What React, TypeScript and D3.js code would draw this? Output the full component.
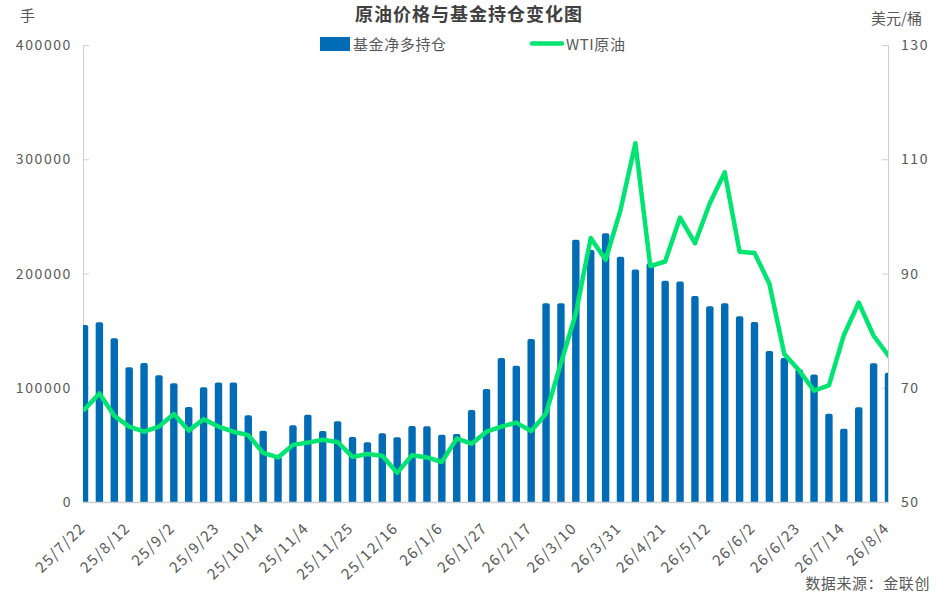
import React, { useEffect, useRef } from "react";
import * as d3 from "d3";

const dates = [
  "25/7/22", "25/7/29", "25/8/5", "25/8/12", "25/8/19", "25/8/26", "25/9/2", "25/9/9",
  "25/9/16", "25/9/23", "25/9/30", "25/10/7", "25/10/14", "25/10/21", "25/10/28", "25/11/4",
  "25/11/11", "25/11/18", "25/11/25", "25/12/2", "25/12/9", "25/12/16", "25/12/23", "25/12/30",
  "26/1/6", "26/1/13", "26/1/20", "26/1/27", "26/2/3", "26/2/10", "26/2/17", "26/2/24",
  "26/3/3", "26/3/10", "26/3/17", "26/3/24", "26/3/31", "26/4/7", "26/4/14", "26/4/21",
  "26/4/28", "26/5/5", "26/5/12", "26/5/19", "26/5/26", "26/6/2", "26/6/9", "26/6/16",
  "26/6/23", "26/6/30", "26/7/7", "26/7/14", "26/7/21", "26/7/28", "26/8/4",
];

// 基金净多持仓 (手)
const netLong = [
  155000, 157300, 143300, 117900, 121700, 110900, 103900, 83200, 100400, 104700,
  104700, 75900, 62400, 39700, 67100, 76400, 62100, 70600, 56900, 52200,
  60100, 56600, 66500, 66200, 58900, 59500, 80500, 98900, 126000, 119300,
  142700, 173900, 173900, 229600, 220600, 235200, 214700, 203600, 209000, 193700,
  193100, 180300, 171300, 173900, 162500, 157600, 132200, 126000, 116200, 111700,
  77300, 64200, 82900, 121400, 113200,
];

// WTI原油 (美元/桶)
const wti = [
  66.2, 69.0, 65.1, 63.2, 62.3, 63.2, 65.4, 62.5, 64.5, 63.2,
  62.3, 61.7, 58.6, 57.8, 60.0, 60.4, 60.9, 60.5, 57.9, 58.4,
  58.1, 55.1, 58.2, 57.8, 57.0, 61.1, 60.2, 62.3, 63.2, 63.9,
  62.4, 65.5, 74.3, 83.0, 96.2, 92.4, 101.1, 112.8, 91.3, 92.1,
  99.8, 95.3, 102.3, 107.7, 93.8, 93.6, 88.2, 75.9, 73.0, 69.5,
  70.4, 79.2, 84.9, 79.1, 75.6,
];

const leftTicks = [0, 100000, 200000, 300000, 400000];
const rightTicks = [50, 70, 90, 110, 130];
const tickLabels = dates.filter((_, i) => i % 3 === 0);

const FONT = "'Noto Sans CJK SC', 'Noto Sans', sans-serif";
const TEXT = "#595959";
const BAR = "#006CB6";
const LINE = "#00E472";

export default function App() {
  const ref = useRef<SVGSVGElement>(null);

  useEffect(() => {
    const W = 937;
    const H = 601;
    const margin = { top: 45, right: 49, bottom: 99, left: 83 };
    const width = W - margin.left - margin.right;
    const height = H - margin.top - margin.bottom;

    const svg = d3.select(ref.current).attr("width", W).attr("height", H);
    svg.selectAll("*").remove();
    svg.style("font-family", FONT);

    const x = d3.scalePoint<string>().domain(dates).range([1.5, width + 0.5]);
    const yL = d3.scaleLinear().domain([0, 400000]).range([height, 0]);
    const yR = d3.scaleLinear().domain([50, 130]).range([height, 0]);

    svg
      .append("defs")
      .append("clipPath")
      .attr("id", "plot-clip")
      .append("rect")
      .attr("x", 0)
      .attr("y", -10)
      .attr("width", width)
      .attr("height", height + 10);

    const g = svg
      .append("g")
      .attr("transform", `translate(${margin.left},${margin.top})`);

    // title & units
    svg
      .append("text")
      .attr("x", 469)
      .attr("y", 21)
      .attr("text-anchor", "middle")
      .attr("font-size", 18)
      .attr("font-weight", "bold")
      .attr("letter-spacing", 1)
      .attr("fill", "#404040")
      .text("原油价格与基金持仓变化图");
    svg
      .append("text")
      .attr("x", 20)
      .attr("y", 21)
      .attr("font-size", 15)
      .attr("fill", TEXT)
      .text("手");
    svg
      .append("text")
      .attr("x", 922)
      .attr("y", 24)
      .attr("text-anchor", "end")
      .attr("font-size", 15)
      .attr("fill", TEXT)
      .text("美元/桶");

    // legend
    svg
      .append("rect")
      .attr("x", 320)
      .attr("y", 37)
      .attr("width", 30)
      .attr("height", 14)
      .attr("fill", BAR);
    svg
      .append("text")
      .attr("x", 353)
      .attr("y", 49.5)
      .attr("font-size", 15)
      .attr("letter-spacing", 0.6)
      .attr("fill", TEXT)
      .text("基金净多持仓");
    svg
      .append("line")
      .attr("x1", 532)
      .attr("x2", 562)
      .attr("y1", 43.5)
      .attr("y2", 43.5)
      .attr("stroke", LINE)
      .attr("stroke-width", 4.5)
      .attr("stroke-linecap", "round");
    svg
      .append("text")
      .attr("x", 566)
      .attr("y", 49.5)
      .attr("font-size", 15)
      .attr("letter-spacing", 0.6)
      .attr("fill", TEXT)
      .text("WTI原油");

    // axes
    const axisLeft = g
      .append("g")
      .call(d3.axisRight(yL).tickValues(leftTicks).tickSize(6).tickFormat(() => ""));
    axisLeft.select(".domain").attr("stroke", "#D0D0D0");
    axisLeft.selectAll(".tick line").attr("stroke", "#D0D0D0");

    const axisRight = g
      .append("g")
      .attr("transform", `translate(${width},0)`)
      .call(d3.axisLeft(yR).tickValues(rightTicks).tickSize(6).tickFormat(() => ""));
    axisRight.select(".domain").attr("stroke", "#D0D0D0");
    axisRight.selectAll(".tick line").attr("stroke", "#D0D0D0");

    g.selectAll(".ltick")
      .data(leftTicks)
      .enter()
      .append("text")
      .attr("x", -11)
      .attr("y", (d) => yL(d) + 5)
      .attr("text-anchor", "end")
      .attr("font-size", 14)
      .attr("letter-spacing", 1.6)
      .attr("fill", TEXT)
      .text((d) => String(d));

    g.selectAll(".rtick")
      .data(rightTicks)
      .enter()
      .append("text")
      .attr("x", width + 13)
      .attr("y", (d) => yR(d) + 5)
      .attr("font-size", 14)
      .attr("letter-spacing", 1.6)
      .attr("fill", TEXT)
      .text((d) => String(d));

    // bars
    const bw = 7.4;
    const r = 2;
    const plot = g.append("g").attr("clip-path", "url(#plot-clip)");
    plot
      .selectAll("path.bar")
      .data(netLong)
      .enter()
      .append("path")
      .attr("class", "bar")
      .attr("fill", BAR)
      .attr("d", (d, i) => {
        const cx = x(dates[i]) as number;
        const x0 = cx - bw / 2;
        const x1 = cx + bw / 2;
        const top = yL(d);
        const bot = yL(0);
        return `M${x0},${bot}V${top + r}Q${x0},${top} ${x0 + r},${top}H${x1 - r}Q${x1},${top} ${x1},${top + r}V${bot}Z`;
      });

    // x axis line
    g.append("line")
      .attr("x1", 0)
      .attr("x2", width)
      .attr("y1", height + 0.5)
      .attr("y2", height + 0.5)
      .attr("stroke", "#D0D0D0")
      .attr("stroke-width", 1.5);

    // WTI line
    const line = d3
      .line<number>()
      .x((_, i) => x(dates[i]) as number)
      .y((d) => yR(d));
    plot
      .append("path")
      .attr("d", line(wti) || "")
      .attr("fill", "none")
      .attr("stroke", LINE)
      .attr("stroke-width", 4.5)
      .attr("stroke-linejoin", "round")
      .attr("stroke-linecap", "round");

    // x tick labels
    g.selectAll(".xtick")
      .data(tickLabels)
      .enter()
      .append("text")
      .attr(
        "transform",
        (d) => `translate(${(x(d) as number) + 2},${height + 27}) rotate(-45)`
      )
      .attr("text-anchor", "end")
      .attr("font-size", 15)
      .attr("letter-spacing", 1.4)
      .attr("fill", TEXT)
      .text((d) => d);

    // source
    svg
      .append("text")
      .attr("x", 930)
      .attr("y", 589)
      .attr("text-anchor", "end")
      .attr("font-size", 15)
      .attr("letter-spacing", 0.6)
      .attr("fill", TEXT)
      .text("数据来源：金联创");
  }, []);

  return (
    <div style={{ position: "absolute", left: 0, top: 0 }}>
      <svg ref={ref}></svg>
    </div>
  );
}
